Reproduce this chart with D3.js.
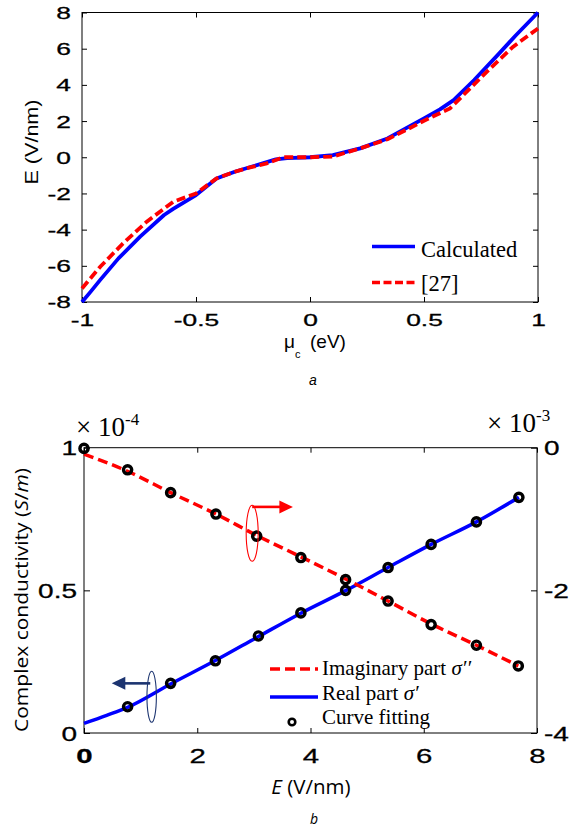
<!DOCTYPE html>
<html><head><meta charset="utf-8">
<script src="https://cdn.jsdelivr.net/npm/d3@7"></script>
<style>body{margin:0;background:#fff}svg{display:block}</style>
</head><body>
<svg id="c" width="577" height="828"></svg>
<script>
// ---------- Panel a data ----------
const muCalc = [-1, -0.96, -0.92, -0.84, -0.745, -0.64, -0.6, -0.5, -0.41, -0.33, -0.25, -0.15, -0.1, 0, 0.1, 0.22, 0.34, 0.42, 0.5, 0.57, 0.63, 0.72, 0.83, 0.9, 1];
const eCalc  = [-8, -7.4, -6.78, -5.59, -4.39, -3.19, -2.85, -2.09, -1.17, -0.8, -0.5, -0.12, -0.05, 0, 0.12, 0.49, 1.04, 1.6, 2.15, 2.65, 3.16, 4.27, 5.74, 6.7, 8];
const muRef  = [-1, -0.92, -0.82, -0.716, -0.6, -0.5, -0.41, -0.33, -0.278, -0.19, -0.117, 0, 0.1, 0.22, 0.34, 0.42, 0.5, 0.614, 0.775, 0.89, 1];
const eRef   = [-7.25, -6.05, -4.76, -3.56, -2.46, -2.0, -1.17, -0.8, -0.61, -0.34, 0, 0, 0.04, 0.49, 1.0, 1.5, 2.02, 2.7, 4.72, 6.1, 7.12];
const muTicks = [-1, -0.5, 0, 0.5, 1];
const eTicksA = [-8, -6, -4, -2, 0, 2, 4, 6, 8];
const legendA = ["Calculated", "[27]"];

// ---------- Panel b data ----------
const fieldReLine = [0, 0.4, 0.77, 1.53, 2.32, 3.08, 3.83, 4.62, 5.37, 6.13, 6.93, 7.68];
const realLine    = [0.034, 0.062, 0.090, 0.172, 0.254, 0.338, 0.420, 0.499, 0.580, 0.661, 0.740, 0.826];
const fieldImLine = [0, 0.77, 1.53, 2.33, 3.05, 3.83, 4.62, 5.37, 6.13, 6.93, 7.67];
const imagLine    = [-0.09, -0.33, -0.63, -0.93, -1.23, -1.53, -1.84, -2.15, -2.47, -2.77, -3.06];
const fieldReFit  = [0.77, 1.53, 2.32, 3.08, 3.83, 4.62, 5.37, 6.13, 6.93, 7.68];
const realFit     = [0.092, 0.174, 0.253, 0.340, 0.421, 0.500, 0.580, 0.661, 0.740, 0.826];
const fieldImFit  = [0, 0.77, 1.53, 2.33, 3.05, 3.83, 4.62, 5.37, 6.13, 6.93, 7.67];
const imagFit     = [-0.01, -0.31, -0.63, -0.93, -1.24, -1.54, -1.85, -2.15, -2.48, -2.77, -3.06];
const fieldTicks  = [0, 2, 4, 6, 8];
const leftTicks   = [0, 0.5, 1];
const rightTicks  = [-4, -2, 0];
const legendB = ["Imaginary part ", "Real part ", "Curve fitting"];

const SANS = "'Liberation Sans', Arial, sans-serif";
const SERIF = "'Liberation Serif', 'Times New Roman', serif";
const OPEN = "'Open Sans', 'Liberation Sans', sans-serif";
const BLUE = "#0000ff", RED = "#ff0000";

const svg = d3.select("#c");

function styleTicks(g, o) {
  g.select(".domain").remove();
  g.selectAll(".tick line").attr("stroke", "#000").attr("stroke-width", 1);
  const t = g.selectAll(".tick text")
    .attr("font-family", SANS).attr("font-size", o.size).attr("fill", "#000")
    .attr("stroke", "#000").attr("stroke-width", 0.3)
    .attr("transform", `scale(${o.sx},1)`);
  if (o.side === "bottom") t.attr("x", 0).attr("y", o.pad).attr("dy", "0.71em");
  if (o.side === "left") t.attr("x", -o.pad / o.sx).attr("dy", "0.35em");
  if (o.side === "right") t.attr("x", o.pad / o.sx).attr("dy", "0.35em");
  return t;
}
const fmt = d => String(d);

// =============== Panel a ===============
const xA = d3.scaleLinear().domain([-1, 1]).range([82, 538]);
const yA = d3.scaleLinear().domain([-8, 8]).range([302, 12.5]);

const gA = svg.append("g");
gA.append("g").attr("transform", `translate(0,${yA(-8)})`)
  .call(d3.axisBottom(xA).tickValues(muTicks).tickFormat(fmt).tickSize(-5).tickSizeOuter(0))
  .call(g => styleTicks(g, {side: "bottom", size: 17, sx: 1.55, pad: 12}));
gA.append("g").attr("transform", `translate(0,${yA(8)})`)
  .call(d3.axisTop(xA).tickValues(muTicks).tickFormat("").tickSize(-5).tickSizeOuter(0))
  .call(g => g.select(".domain").remove());
gA.append("g").attr("transform", `translate(${xA(-1)},0)`)
  .call(d3.axisLeft(yA).tickValues(eTicksA).tickFormat(fmt).tickSize(-5).tickSizeOuter(0))
  .call(g => styleTicks(g, {side: "left", size: 17, sx: 1.55, pad: 11}));
gA.append("g").attr("transform", `translate(${xA(1)},0)`)
  .call(d3.axisRight(yA).tickValues(eTicksA).tickFormat("").tickSize(-5).tickSizeOuter(0))
  .call(g => g.select(".domain").remove());
gA.append("rect").attr("x", xA(-1)).attr("y", yA(8))
  .attr("width", xA(1) - xA(-1)).attr("height", yA(-8) - yA(8))
  .attr("fill", "none").attr("stroke", "#000").attr("stroke-width", 1);

const lineA = d3.line().x(d => xA(d[0])).y(d => yA(d[1]));
gA.append("path").datum(d3.zip(muCalc, eCalc)).attr("d", lineA)
  .attr("fill", "none").attr("stroke", BLUE).attr("stroke-width", 3.8).attr("stroke-linejoin", "round");
gA.append("path").datum(d3.zip(muRef, eRef)).attr("d", lineA)
  .attr("fill", "none").attr("stroke", RED).attr("stroke-width", 3.8).attr("stroke-dasharray", "9,4");

// legend a
const legA = gA.append("g");
legA.append("line").attr("x1", 372).attr("x2", 415).attr("y1", 246.5).attr("y2", 246.5)
  .attr("stroke", BLUE).attr("stroke-width", 3.5);
legA.append("text").attr("x", 421).attr("y", 257).attr("font-family", SERIF).attr("font-size", 22.5).text(legendA[0]);
legA.append("line").attr("x1", 372).attr("x2", 415).attr("y1", 282.5).attr("y2", 282.5)
  .attr("stroke", RED).attr("stroke-width", 3.5).attr("stroke-dasharray", "8,3.5");
legA.append("text").attr("x", 421).attr("y", 291).attr("font-family", SERIF).attr("font-size", 22.5).text(legendA[1]);

// labels a
gA.append("text").attr("transform", "translate(38,142) rotate(-90)")
  .attr("text-anchor", "middle").attr("font-family", SANS).attr("font-size", 18.5)
  .attr("textLength", 85).attr("lengthAdjust", "spacingAndGlyphs").text("E (V/nm)");
const xl = gA.append("text").attr("x", 284).attr("y", 348).attr("font-family", SANS).attr("font-size", 19);
xl.append("tspan").text("μ");
xl.append("tspan").attr("font-size", 11).attr("dy", 10).text("c");
xl.append("tspan").attr("x", 310).attr("dy", -10).text("(eV)");
gA.append("text").attr("x", 313).attr("y", 385).attr("text-anchor", "middle")
  .attr("font-family", SANS).attr("font-style", "italic").attr("font-size", 14).text("a");

// =============== Panel b ===============
const xB = d3.scaleLinear().domain([0, 8]).range([84, 537]);
const yL = d3.scaleLinear().domain([0, 1]).range([733, 447.7]);
const yR = d3.scaleLinear().domain([-4, 0]).range([733, 447.7]);
const gB = svg.append("g");

gB.append("g").attr("transform", `translate(0,${yL(0)})`)
  .call(d3.axisBottom(xB).tickValues(fieldTicks).tickFormat(fmt).tickSize(-5).tickSizeOuter(0))
  .call(g => styleTicks(g, {side: "bottom", size: 21, sx: 1.4, pad: 15})
    .attr("font-weight", d => d === 0 ? "bold" : "normal"));
gB.append("g").attr("transform", `translate(0,${yL(1)})`)
  .call(d3.axisTop(xB).tickValues(fieldTicks).tickFormat("").tickSize(-5).tickSizeOuter(0))
  .call(g => g.select(".domain").remove());
gB.append("g").attr("transform", `translate(${xB(0)},0)`)
  .call(d3.axisLeft(yL).tickValues(leftTicks).tickFormat(fmt).tickSize(-6).tickSizeOuter(0))
  .call(g => styleTicks(g, {side: "left", size: 20, sx: 1.4, pad: 7}));
gB.append("g").attr("transform", `translate(${xB(8)},0)`)
  .call(d3.axisRight(yR).tickValues(rightTicks).tickFormat(fmt).tickSize(-6).tickSizeOuter(0))
  .call(g => styleTicks(g, {side: "right", size: 20, sx: 1.4, pad: 7}));
gB.append("rect").attr("x", xB(0)).attr("y", yL(1))
  .attr("width", xB(8) - xB(0)).attr("height", yL(0) - yL(1))
  .attr("fill", "none").attr("stroke", "#000").attr("stroke-width", 1);

// multipliers
function mult(x, y, exp) {
  const t = gB.append("text").attr("x", x).attr("y", y).attr("font-family", SERIF).attr("font-size", 27);
  t.append("tspan").text("× 10");
  t.append("tspan").attr("font-size", 17).attr("dy", -11).text(exp);
}
mult(76, 436, "-4");
mult(487, 432, "-3");

// lines
const lineRe = d3.line().curve(d3.curveMonotoneX).x(d => xB(d[0])).y(d => yL(d[1]));
const lineIm = d3.line().curve(d3.curveMonotoneX).x(d => xB(d[0])).y(d => yR(d[1]));
gB.append("path").datum(d3.zip(fieldReLine, realLine)).attr("d", lineRe)
  .attr("fill", "none").attr("stroke", BLUE).attr("stroke-width", 3.5);
gB.append("path").datum(d3.zip(fieldImLine, imagLine)).attr("d", lineIm)
  .attr("fill", "none").attr("stroke", RED).attr("stroke-width", 3.5).attr("stroke-dasharray", "10,5");

// markers
gB.append("g").selectAll("circle").data(d3.zip(fieldReFit, realFit)).join("circle")
  .attr("cx", d => xB(d[0])).attr("cy", d => yL(d[1])).attr("r", 4.1)
  .attr("fill", "none").attr("stroke", "#000").attr("stroke-width", 3.4);
gB.append("g").selectAll("circle").data(d3.zip(fieldImFit, imagFit)).join("circle")
  .attr("cx", d => xB(d[0])).attr("cy", d => yR(d[1])).attr("r", 4.1)
  .attr("fill", "none").attr("stroke", "#000").attr("stroke-width", 3.4);

// annotations
const NAVY = "#1c3470";
gB.append("ellipse").attr("cx", xB(2.97)).attr("cy", yR(-1.2)).attr("rx", 6).attr("ry", 28)
  .attr("fill", "none").attr("stroke", RED).attr("stroke-width", 1.1);
gB.append("line").attr("x1", xB(2.97)).attr("x2", xB(3.47)).attr("y1", yR(-0.83)).attr("y2", yR(-0.83))
  .attr("stroke", RED).attr("stroke-width", 2.6);
gB.append("path")
  .attr("d", `M${xB(3.69)},${yR(-0.83)} L${xB(3.45)},${yR(-0.83) - 6.5} L${xB(3.45)},${yR(-0.83) + 6.5} Z`)
  .attr("fill", RED);
gB.append("ellipse").attr("cx", xB(1.195)).attr("cy", yL(0.127)).attr("rx", 4.7).attr("ry", 25.5)
  .attr("fill", "none").attr("stroke", NAVY).attr("stroke-width", 1.1);
gB.append("line").attr("x1", xB(1.17)).attr("x2", xB(0.68)).attr("y1", yL(0.174)).attr("y2", yL(0.174))
  .attr("stroke", NAVY).attr("stroke-width", 2.6);
gB.append("path")
  .attr("d", `M${xB(0.49)},${yL(0.174)} L${xB(0.73)},${yL(0.174) - 6.5} L${xB(0.73)},${yL(0.174) + 6.5} Z`)
  .attr("fill", NAVY);

// legend b
const legB = gB.append("g").attr("font-family", SERIF).attr("font-size", 21);
legB.append("line").attr("x1", 270).attr("x2", 318).attr("y1", 669).attr("y2", 669)
  .attr("stroke", RED).attr("stroke-width", 3.5).attr("stroke-dasharray", "10,5");
const t1 = legB.append("text").attr("x", 322).attr("y", 675);
t1.append("tspan").text(legendB[0]);
t1.append("tspan").attr("font-style", "italic").text("σ′′");
legB.append("line").attr("x1", 270).attr("x2", 318).attr("y1", 697).attr("y2", 697)
  .attr("stroke", BLUE).attr("stroke-width", 3.5);
const t2 = legB.append("text").attr("x", 322).attr("y", 700);
t2.append("tspan").text(legendB[1]);
t2.append("tspan").attr("font-style", "italic").text("σ′");
legB.append("circle").attr("cx", 292).attr("cy", 722).attr("r", 3.3)
  .attr("fill", "none").attr("stroke", "#000").attr("stroke-width", 2.6);
legB.append("text").attr("x", 322).attr("y", 724).text(legendB[2]);

// labels b
const yl = gB.append("text").attr("transform", "translate(28,600) rotate(-90)")
  .attr("text-anchor", "middle").attr("font-family", OPEN).attr("font-size", 18.5)
  .attr("textLength", 264).attr("lengthAdjust", "spacingAndGlyphs");
yl.append("tspan").text("Complex conductivity (");
yl.append("tspan").attr("font-style", "italic").text("S");
yl.append("tspan").text("/");
yl.append("tspan").attr("font-style", "italic").text("m");
yl.append("tspan").text(")");
const xlb = gB.append("text").attr("x", 311).attr("y", 794).attr("text-anchor", "middle")
  .attr("font-family", OPEN).attr("font-size", 20.5);
xlb.append("tspan").attr("font-style", "italic").text("E");
xlb.append("tspan").text(" (V/nm)");
gB.append("text").attr("x", 314).attr("y", 824).attr("text-anchor", "middle")
  .attr("font-family", OPEN).attr("font-style", "italic").attr("font-size", 14).text("b");
</script>
</body></html>
